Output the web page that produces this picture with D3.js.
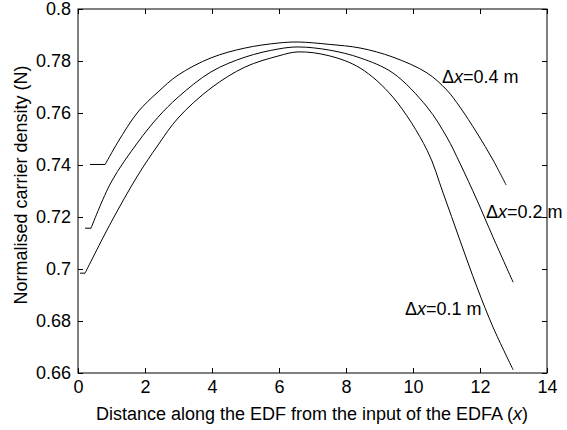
<!DOCTYPE html>
<html>
<head>
<script src="https://d3js.org/d3.v7.min.js"></script>
<style>
  body { margin: 0; background: #fff; }
  text { font-family: "Liberation Sans", Arial, sans-serif; fill: #000; }
</style>
</head>
<body>
<svg width="567" height="430"></svg>
<script>
// x positions (m) and normalised carrier density
// (first two points of each series are the flat start)
var x04 = [0.36, 0.81, 1.19, 1.79, 2.39, 2.99, 3.97, 4.99, 5.97, 6.57, 7.5, 8.42, 9.4, 10.42, 11.01, 11.4, 11.91, 12.39, 12.78];
var n04 = [0.7402, 0.7402, 0.7488, 0.7604, 0.7681, 0.7746, 0.7812, 0.7850, 0.7869, 0.7873, 0.7864, 0.7850, 0.7815, 0.7754, 0.7688, 0.7623, 0.7523, 0.7419, 0.7323];

var x02 = [0.21, 0.39, 0.99, 1.79, 2.39, 2.99, 3.97, 4.99, 5.97, 6.57, 7.5, 8.42, 9.4, 10.42, 11.01, 11.4, 11.91, 12.39, 12.99];
var n02 = [0.7157, 0.7157, 0.7334, 0.7488, 0.7584, 0.7661, 0.7758, 0.7815, 0.7846, 0.7854, 0.7842, 0.7812, 0.7754, 0.7623, 0.7507, 0.7407, 0.7265, 0.7122, 0.6949];

var x01 = [0.06, 0.21, 0.99, 1.79, 2.39, 2.99, 3.97, 4.99, 5.97, 6.57, 7.5, 8.42, 9.4, 10.42, 10.9, 11.4, 11.91, 12.39, 12.99];
var n01 = [0.6984, 0.6984, 0.7180, 0.7361, 0.7477, 0.7581, 0.7696, 0.7777, 0.7819, 0.7835, 0.7820, 0.7773, 0.7661, 0.7457, 0.7292, 0.7111, 0.6930, 0.6776, 0.6612];

var xTicks = [0, 2, 4, 6, 8, 10, 12, 14];
var yTicks = [0.66, 0.68, 0.7, 0.72, 0.74, 0.76, 0.78, 0.8];

var svg = d3.select("svg");
var mLeft = 78, mRight = 547, mTop = 9, mBottom = 373;

var x = d3.scaleLinear().domain([0, 14]).range([mLeft, mRight]);
var y = d3.scaleLinear().domain([0.66, 0.8]).range([mBottom, mTop]);

// frame
svg.append("rect")
   .attr("x", mLeft).attr("y", mTop)
   .attr("width", mRight - mLeft).attr("height", mBottom - mTop)
   .attr("fill", "none").attr("stroke", "#000").attr("stroke-width", 1);

// axes with inward ticks
function styleAxis(g) {
    g.select(".domain").remove();
    g.selectAll("line").attr("stroke", "#000");
    g.selectAll("text").style("font-size", "18px").style("font-family", "Liberation Sans, Arial, sans-serif");
}
svg.append("g").attr("transform", "translate(0," + mBottom + ")")
   .call(d3.axisBottom(x).tickValues(xTicks).tickFormat(d3.format("d")).tickSizeInner(-5).tickPadding(7))
   .call(styleAxis);
svg.append("g").attr("transform", "translate(" + mLeft + ",0)")
   .call(d3.axisLeft(y).tickValues(yTicks).tickFormat(function(d) { return String(+d.toFixed(2)); }).tickSizeInner(-5).tickPadding(7))
   .call(styleAxis);
svg.append("g").attr("transform", "translate(0," + mTop + ")")
   .call(d3.axisTop(x).tickValues(xTicks).tickFormat("").tickSizeInner(-5))
   .call(styleAxis);
svg.append("g").attr("transform", "translate(" + mRight + ",0)")
   .call(d3.axisRight(y).tickValues(yTicks).tickFormat("").tickSizeInner(-5))
   .call(styleAxis);

// curves: straight flat start, then a smooth curve
var flat = d3.line()
    .x(function(d) { return x(d[0]); })
    .y(function(d) { return y(d[1]); });
var smooth = d3.line()
    .x(function(d) { return x(d[0]); })
    .y(function(d) { return y(d[1]); })
    .curve(d3.curveCatmullRom.alpha(0.5));

[[x04, n04], [x02, n02], [x01, n01]].forEach(function(s) {
    var pts = d3.zip(s[0], s[1]);
    svg.append("path")
       .attr("d", flat(pts.slice(0, 2)) + smooth(pts.slice(1)).replace(/^M/, "L"))
       .attr("fill", "none")
       .attr("stroke", "#000")
       .attr("stroke-width", 1);
});

// curve labels
var labels = [
    {t: "0.4", lx: 442, ly: 83},
    {t: "0.2", lx: 486, ly: 218},
    {t: "0.1", lx: 405, ly: 315}
];
labels.forEach(function(l) {
    var t = svg.append("text").attr("x", l.lx).attr("y", l.ly).style("font-size", "18px");
    t.append("tspan").text("\u0394");
    t.append("tspan").style("font-style", "italic").text("x");
    t.append("tspan").text("=" + l.t + " m");
});

// axis titles
var xl = svg.append("text")
   .attr("x", 312).attr("y", 420)
   .attr("text-anchor", "middle").style("font-size", "18px");
xl.append("tspan").text("Distance along the EDF from the input of the EDFA (");
xl.append("tspan").style("font-style", "italic").text("x");
xl.append("tspan").text(")");

svg.append("text")
   .attr("transform", "translate(27,185) rotate(-90)")
   .attr("text-anchor", "middle").style("font-size", "18px")
   .text("Normalised carrier density (N)");
</script>
</body>
</html>
